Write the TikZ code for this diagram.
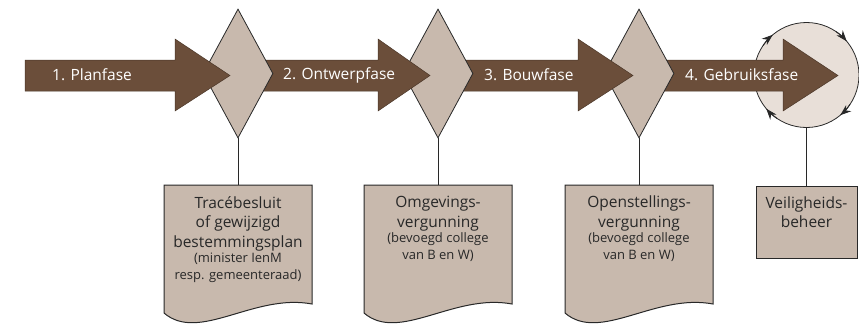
\documentclass[tikz,border=0pt]{standalone}
\usepackage{fontspec}
\setmainfont{Open Sans}
\usetikzlibrary{shapes.geometric,positioning,arrows.meta}
\definecolor{fase_brown}{RGB}{107,78,58}
\definecolor{fase_taupe}{RGB}{200,185,173}
\definecolor{fase_light}{RGB}{232,223,216}
\definecolor{fase_line}{RGB}{40,40,40}
\definecolor{fase_text}{RGB}{40,40,40}

\tikzset{
  phase/.style={fill=fase_brown, draw=fase_brown!70!black, line width=0.5pt},
  phaselabel/.style={anchor=west, text=white, inner sep=0pt,
    font=\fontsize{15.5}{18}\selectfont},
  gate/.style={diamond, draw=fase_line, fill=fase_taupe, line width=0.8pt,
    minimum width=70pt, minimum height=129pt, inner sep=0pt},
  cyclus/.style={circle, draw=fase_line, fill=fase_light, line width=0.8pt,
    minimum size=105pt, inner sep=0pt},
  paper/.style={draw=fase_line, fill=fase_taupe, line width=1pt},
  beheerbox/.style={rectangle, draw=fase_line, fill=fase_taupe, line width=1pt,
    minimum width=101pt, minimum height=72pt, inner sep=0pt},
  doctitle/.style={align=center, text=fase_text, inner sep=0pt,
    font=\fontsize{15.5}{19.5}\selectfont},
  docsub/.style={align=center, text=fase_text, inner sep=0pt,
    font=\fontsize{13}{17}\selectfont},
  link/.style={draw=fase_line, line width=0.8pt},
  cyclearrow/.style={draw=fase_line, line width=0.9pt,
    -{Stealth[length=11pt,width=8pt]}}
}

\begin{document}
\begin{tikzpicture}[x=1pt,y=-1pt]
    % Canvas in pixel units (859 x 325)
    \useasboundingbox (0,0) rectangle (859,325);

    % Gebruiksfase cycle with the turning arrows
    \node[cyclus] (cyc) at (806.5,75) {};
    \foreach \a in {130,40,-50,220} {
      \draw[cyclearrow] ([shift={(\a+16:52.5pt)}]cyc.center)
        arc[start angle=\a+16, end angle=\a, radius=52.5pt];
    }

    % Phase arrows, drawn from right to left so that each one
    % lies under the gate before it and over the gate after it
    \draw[phase] (639,60) -- (783,60) -- (783,39) -- (838,75.5)
      -- (783,111) -- (783,91) -- (639,91) -- cycle;
    \node[phaselabel] (fase4) at (685,75) {4. Gebruiksfase};
    \node[gate] (gate3) at (639,73.5) {};

    \draw[phase] (438,60) -- (578,60) -- (578,39) -- (633,75.5)
      -- (578,111) -- (578,91) -- (438,91) -- cycle;
    \node[phaselabel] (fase3) at (484,75) {3. Bouwfase};
    \node[gate] (gate2) at (438,73.5) {};

    \draw[phase] (238,60) -- (378,60) -- (378,39) -- (430,75.5)
      -- (378,111) -- (378,91) -- (238,91) -- cycle;
    \node[phaselabel] (fase2) at (283,75) {2. Ontwerpfase};
    \node[gate] (gate1) at (238,73.5) {};

    \draw[phase] (25,60) -- (175,60) -- (175,39) -- (230,75.5)
      -- (175,111) -- (175,91) -- (25,91) -- cycle;
    \node[phaselabel] (fase1) at (52,75) {1. Planfase};

    % Decision documents
    \foreach \dx/\nm in {164/doc1, 364/doc2, 565/doc3} {
      \draw[paper] (\dx,185) -- (\dx+148,185) -- (\dx+148,304)
        .. controls (\dx+90,293) and (\dx+35,343) .. (\dx,313) -- cycle;
      \coordinate (\nm) at (\dx+74,185);
    }
    \node[beheerbox] (beheer) at (806.5,222) {};

    % Links from the gates down to the documents
    \draw[link] (gate1.south) -- (doc1);
    \draw[link] (gate2.south) -- (doc2);
    \draw[link] (gate3.south) -- (doc3);
    \draw[link] (cyc.south) -- (beheer.north);

    % Document texts
    \node[doctitle, anchor=north] (titel1) at ([yshift=-11pt]doc1)
      {Tracébesluit\\of gewijzigd\\bestemmingsplan};
    \node[docsub, below=1.5pt of titel1] (wie1)
      {(minister IenM\\resp. gemeenteraad)};
    \node[doctitle, anchor=north] (titel2) at ([yshift=-11pt]doc2)
      {Omgevings-\\vergunning};
    \node[docsub, below=1.5pt of titel2] (wie2)
      {(bevoegd college\\van B en W)};
    \node[doctitle, anchor=north] (titel3) at ([yshift=-11pt]doc3)
      {Openstellings-\\vergunning};
    \node[docsub, below=1.5pt of titel3] (wie3)
      {(bevoegd college\\van B en W)};
    \node[doctitle, anchor=north] (titel4) at ([yshift=-11pt]beheer.north)
      {Veiligheids-\\beheer};
\end{tikzpicture}
\end{document}
